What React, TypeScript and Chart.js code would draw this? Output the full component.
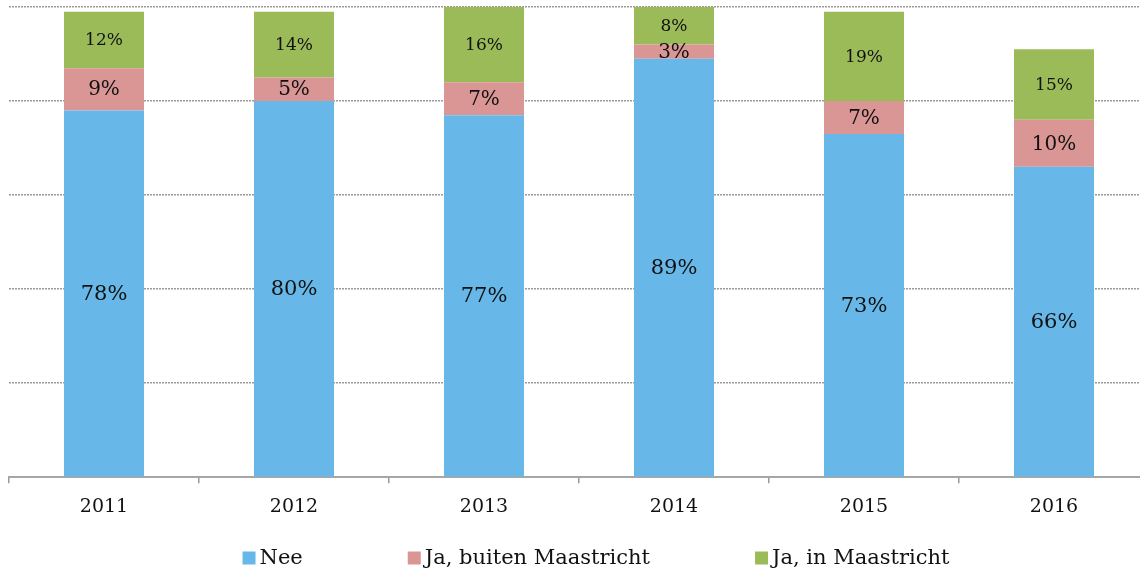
import React, { useEffect, useRef } from "react";
import { Chart, registerables } from "chart.js";

Chart.register(...registerables);

const categories = ["2011", "2012", "2013", "2014", "2015", "2016"];
const neeValues = [78, 80, 77, 89, 73, 66];
const buitenValues = [9, 5, 7, 3, 7, 10];
const inMaastrichtValues = [12, 14, 16, 8, 19, 15];
const seriesLabels = ["Nee", "Ja, buiten Maastricht", "Ja, in Maastricht"];

const FONT = "'DejaVu Serif', 'Liberation Serif', serif";
const COLORS = ["#67B8E9", "#D99694", "#9BBB59"];
const LABEL_SIZES = [21, 20, 17];

const dataLabelPlugin = {
  id: "dataLabels",
  afterDatasetsDraw(chart: any) {
    const ctx = chart.ctx;
    ctx.save();
    ctx.textAlign = "center";
    ctx.textBaseline = "middle";
    ctx.fillStyle = "#111";
    chart.data.datasets.forEach((ds: any, di: number) => {
      const meta = chart.getDatasetMeta(di);
      ctx.font = `${LABEL_SIZES[di]}px ${FONT}`;
      meta.data.forEach((el: any, i: number) => {
        const p = el.getCenterPoint();
        ctx.fillText(`${ds.data[i]}%`, p.x, p.y + 1);
      });
    });
    ctx.restore();
  },
};

const LEGEND_CENTER_X = 596;
const LEGEND_Y = 558;
const LEGEND_BOX = 13;
const LEGEND_BOX_GAP = 4;
const LEGEND_ITEM_GAP = 105;

const legendPlugin = {
  id: "customLegend",
  afterDraw(chart: any) {
    const ctx = chart.ctx;
    ctx.save();
    ctx.font = `21px ${FONT}`;
    ctx.textBaseline = "middle";
    ctx.textAlign = "left";
    const items = chart.data.datasets.map((ds: any) => ({
      text: ds.label,
      color: ds.backgroundColor,
      w: ctx.measureText(ds.label).width,
    }));
    const total =
      items.reduce((s: number, it: any) => s + LEGEND_BOX + LEGEND_BOX_GAP + it.w, 0) +
      LEGEND_ITEM_GAP * (items.length - 1);
    let x = LEGEND_CENTER_X - total / 2;
    items.forEach((it: any) => {
      ctx.fillStyle = it.color;
      ctx.fillRect(x, LEGEND_Y - LEGEND_BOX / 2, LEGEND_BOX, LEGEND_BOX);
      x += LEGEND_BOX + LEGEND_BOX_GAP;
      ctx.fillStyle = "#111";
      ctx.fillText(it.text, x, LEGEND_Y + 1);
      x += it.w + LEGEND_ITEM_GAP;
    });
    ctx.restore();
  },
};

export default function App() {
  const ref = useRef<HTMLCanvasElement | null>(null);
  useEffect(() => {
    if (!ref.current) return;
    const values = [neeValues, buitenValues, inMaastrichtValues];
    const chart = new Chart(ref.current, {
      type: "bar",
      data: {
        labels: categories,
        datasets: seriesLabels.map((label, i) => ({
          label,
          data: values[i],
          backgroundColor: COLORS[i],
          borderWidth: 0,
          barPercentage: 80 / 190,
          categoryPercentage: 1,
        })),
      },
      options: {
        responsive: false,
        animation: false,
        devicePixelRatio: 1,
        layout: { padding: { left: 9, top: 7, right: 0, bottom: 41 } },
        plugins: {
          legend: { display: false },
          tooltip: { enabled: false },
        },
        scales: {
          x: {
            stacked: true,
            grid: {
              offset: true,
              drawOnChartArea: false,
              drawTicks: true,
              tickLength: 6,
              color: "#999",
              lineWidth: 1.5,
            },
            border: { display: true, color: "#a6a6a6", width: 2 },
            ticks: {
              color: "#111",
              font: { family: FONT, size: 19 },
              padding: 12,
            },
          },
          y: {
            stacked: true,
            position: "right",
            min: 0,
            max: 100,
            ticks: { display: false, stepSize: 20 },
            grid: { color: "#9a9a9a", lineWidth: 1.5, drawTicks: false },
            border: { display: false, dash: [2, 1] },
            afterFit: (scale: any) => {
              scale.width = 34;
            },
          },
        },
      },
      plugins: [dataLabelPlugin, legendPlugin],
    });
    return () => chart.destroy();
  }, []);

  return (
    <div
      style={{
        position: "absolute",
        left: 0,
        top: 0,
        width: 1140,
        height: 571,
        overflow: "hidden",
        background: "#fff",
      }}
    >
      <canvas ref={ref} width={1183} height={571} style={{ display: "block" }} />
    </div>
  );
}
